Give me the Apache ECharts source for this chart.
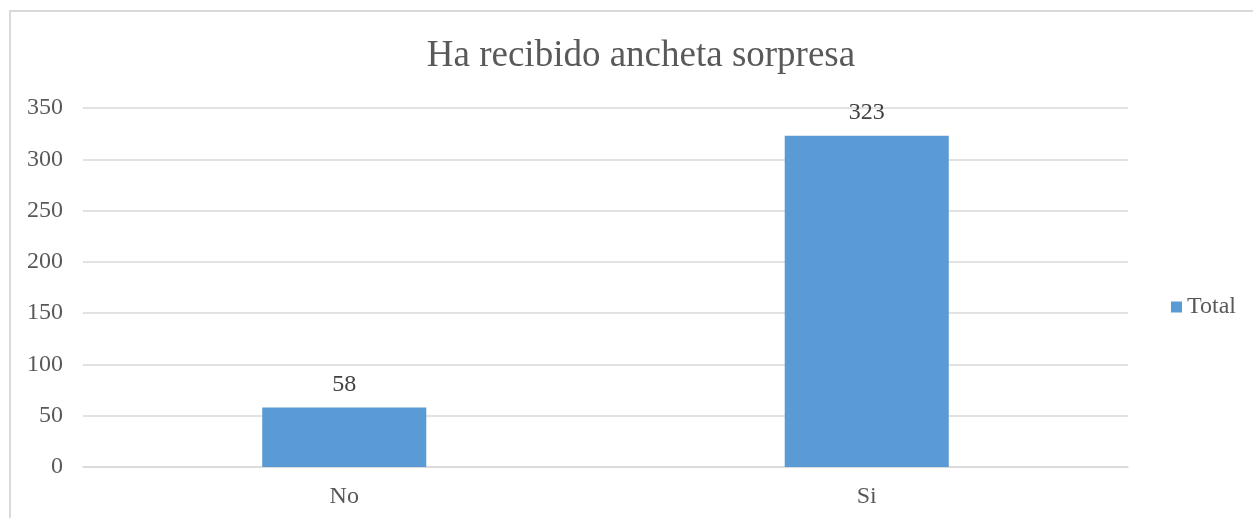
<!DOCTYPE html>
<html>
<head>
<meta charset="utf-8">
<script src="https://cdn.jsdelivr.net/npm/echarts@6/dist/echarts.min.js"></script>
<style>
  html, body { margin: 0; padding: 0; background: #fff; overflow: hidden; }
  .frame { position: absolute; left: 9px; top: 10px; width: 1300px; height: 560px;
           border: 2px solid #d9d9d9; box-sizing: border-box; }
  .main { position: absolute; left: 0; top: 0; width: 1253px; height: 518px; }
</style>
</head>
<body>
<div class="frame"></div>
<div id="main" class="main"></div>
<script>
// datos del grafico
var categories = ["No", "Si"];
var totals = [58, 323];
var yTicks = { min: 0, max: 350, interval: 50 };

var chartDom = document.getElementById("main");
var myChart = echarts.init(chartDom);
var serif = "'Liberation Serif', 'Times New Roman', serif";

var option = {
  animation: false,
  title: {
    text: "Ha recibido ancheta sorpresa",
    left: 636,
    textAlign: "center",
    top: 33,
    textStyle: { fontFamily: serif, fontSize: 37, fontWeight: "normal", color: "#595959" }
  },
  legend: {
    data: ["Total"],
    left: 1166,
    top: 290,
    orient: "vertical",
    icon: "rect",
    itemWidth: 11,
    itemHeight: 11,
    itemGap: 5,
    textStyle: { fontFamily: serif, fontSize: 24, color: "#595959", padding: [0, 0, 0, 0] }
  },
  grid: { left: 83, right: 125, top: 108, height: 359, containLabel: false },
  xAxis: {
    type: "category",
    data: categories,
    axisLine: { lineStyle: { color: "#d9d9d9", width: 1.5 } },
    axisTick: { show: false },
    axisLabel: { fontFamily: serif, fontSize: 24, color: "#595959", margin: 18 }
  },
  yAxis: {
    type: "value",
    min: yTicks.min,
    max: yTicks.max,
    interval: yTicks.interval,
    axisLine: { show: false },
    axisTick: { show: false },
    axisLabel: { fontFamily: serif, fontSize: 24, color: "#595959", margin: 20 },
    splitLine: { lineStyle: { color: "#d9d9d9", width: 1.5 } }
  },
  series: [{
    name: "Total",
    type: "bar",
    data: totals,
    barWidth: "31.4%",
    itemStyle: { color: "#5b9bd5" },
    label: {
      show: true,
      position: "top",
      distance: 11,
      fontFamily: serif,
      fontSize: 24,
      color: "#404040"
    }
  }]
};

myChart.setOption(option);
window.onresize = function () {
  myChart.resize();
};
</script>
</body>
</html>
